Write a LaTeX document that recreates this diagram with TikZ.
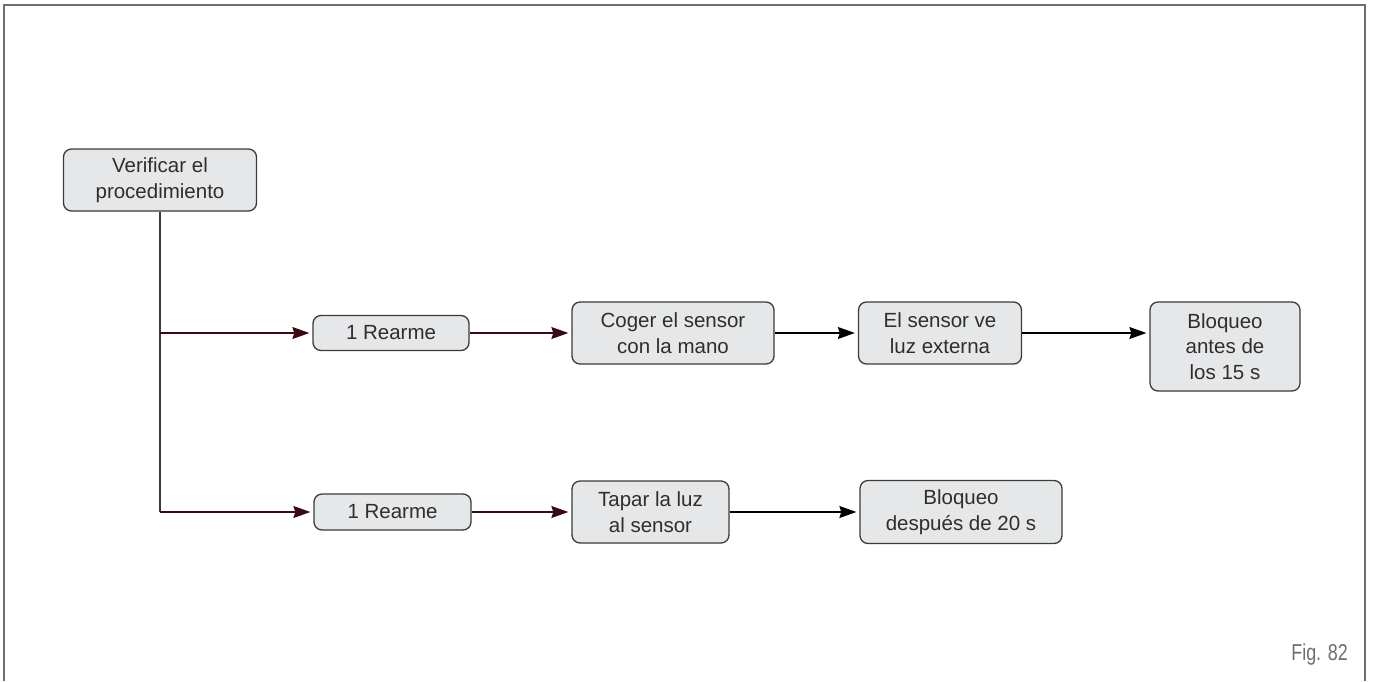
\documentclass[tikz,border=0pt]{standalone}
\usepackage{fontspec}
\setmainfont{Liberation Sans}
\newfontfamily\figfont[FakeStretch=0.78]{Liberation Sans}
\usetikzlibrary{arrows.meta}
\definecolor{boxfill}{HTML}{E6E7E8}
\definecolor{boxline}{HTML}{3A3A3A}
\definecolor{boxtext}{HTML}{2E2E2E}
\definecolor{maroon}{HTML}{3A0A14}
\definecolor{framegray}{HTML}{6E6E6E}

\begin{document}
\begin{tikzpicture}[x=1pt, y=-1pt,
    font=\fontsize{20.5}{25.5}\selectfont,
    stepbox/.style={draw=boxline, fill=boxfill, line width=1.3pt, rounded corners=8pt,
        align=center, text=boxtext, inner sep=0pt},
    flow/.style={line width=1.3pt, -{Stealth[length=17pt, width=12pt, inset=2pt]}, shorten >=3pt},
    trunk/.style={line width=1.3pt, draw=boxline}]
    \useasboundingbox (0,0) rectangle (1373,681);
    \draw[framegray, line width=1.5pt] (4,681) -- (4,5) -- (1365,5) -- (1365,681);

    \node[stepbox, minimum width=193pt, minimum height=62pt] (verif) at (160,180) {Verificar el\\procedimiento};

    \node[stepbox, minimum width=156pt, minimum height=35pt] (rearmeA) at (391,333) {1 Rearme};
    \node[stepbox, minimum width=202pt, minimum height=62pt] (coger) at (673,333) {Coger el sensor\\con la mano};
    \node[stepbox, minimum width=163pt, minimum height=62pt] (luz) at (940,333) {El sensor ve\\luz externa};
    \node[stepbox, minimum width=150pt, minimum height=89pt] (bloqA) at (1225,346.5) {Bloqueo\\antes de\\los 15 s};

    \node[stepbox, minimum width=157pt, minimum height=36pt] (rearmeB) at (392.5,512) {1 Rearme};
    \node[stepbox, minimum width=157pt, minimum height=62pt] (tapar) at (650.5,512) {Tapar la luz\\al sensor};
    \node[stepbox, minimum width=202pt, minimum height=63pt] (bloqB) at (961,512) {Bloqueo\\después de 20 s};

    \coordinate (splitA) at (verif.south |- rearmeA.west);
    \coordinate (splitB) at (verif.south |- rearmeB.west);

    \draw[trunk] (verif.south) -- (splitB);
    \draw[flow, maroon] (splitA) -- (rearmeA.west);
    \draw[flow, maroon] (splitB) -- (rearmeB.west);

    \draw[flow, maroon] (rearmeA.east) -- (coger.west);
    \draw[flow, black] (coger.east) -- (luz.west);
    \draw[flow, black] (luz.east) -- (luz.east -| bloqA.west);

    \draw[flow, maroon] (rearmeB.east) -- (tapar.west);
    \draw[flow, black] (tapar.east) -- (bloqB.west);

    \node[anchor=south east, inner sep=0pt, text=framegray, font=\figfont\fontsize{23}{23}\selectfont] (figlabel) at (1348,665) {Fig. 82};
\end{tikzpicture}
\end{document}
